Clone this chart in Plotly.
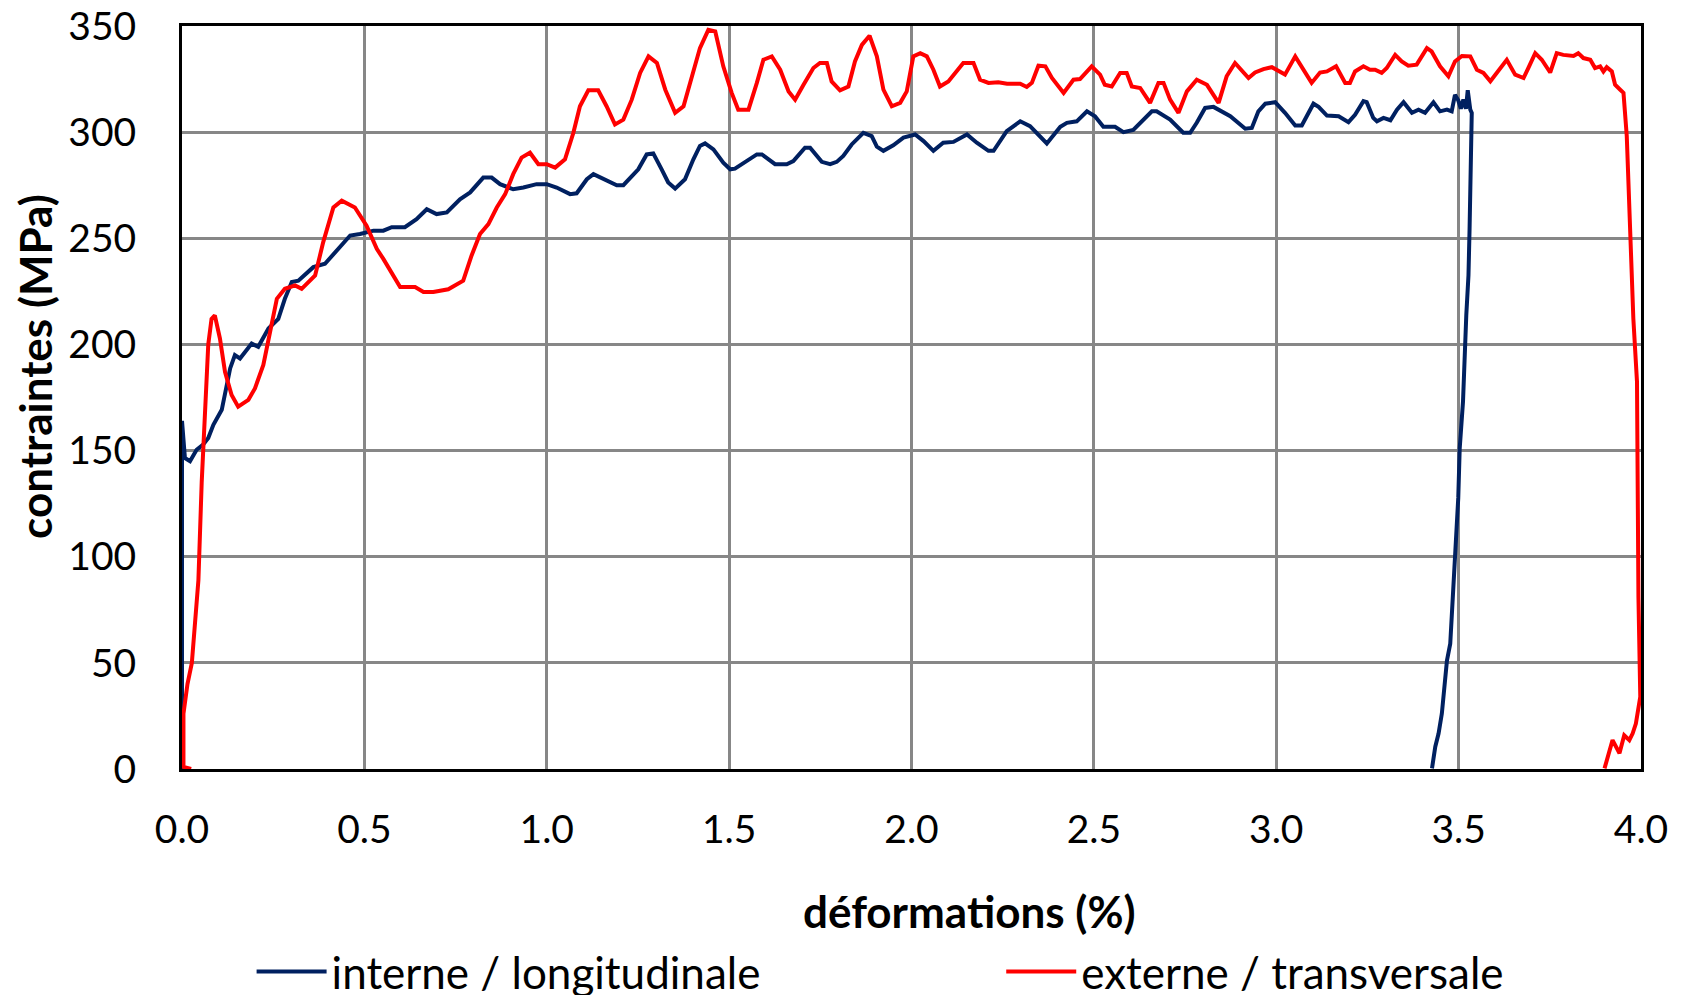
import plotly.graph_objects as go

# interne / longitudinale : (déformation %, contrainte MPa)
interne = [
    (0.0, 0), (0.0, 164), (0.008, 146.5), (0.022, 145), (0.04, 150.4), (0.058, 152.8),
    (0.072, 155.9), (0.086, 162.1), (0.109, 169.2), (0.118, 176), (0.132, 188.7),
    (0.145, 195), (0.159, 193.4), (0.191, 200.4), (0.209, 198.9), (0.237, 207.5),
    (0.264, 212), (0.282, 221.5), (0.301, 229.4), (0.319, 230), (0.337, 233),
    (0.36, 236.4), (0.392, 238), (0.424, 244.2), (0.461, 251.3), (0.488, 252),
    (0.525, 253.6), (0.552, 253.6), (0.575, 255.2), (0.611, 255.2), (0.643, 259),
    (0.671, 263.7), (0.698, 261.4), (0.726, 262.2), (0.762, 268.4), (0.79, 271.6),
    (0.826, 278.6), (0.849, 278.6), (0.872, 275.5), (0.908, 273.1), (0.936, 273.9),
    (0.972, 275.5), (1.0, 275.5), (1.027, 273.9), (1.064, 270.8), (1.082, 271.2),
    (1.11, 277.8), (1.128, 280.2), (1.16, 277.8), (1.192, 275), (1.21, 275),
    (1.251, 282.5), (1.274, 289.5), (1.292, 290), (1.315, 282.5), (1.333, 276.3),
    (1.352, 273.4), (1.379, 277.8), (1.402, 287.2), (1.42, 293.5), (1.434, 294.7),
    (1.457, 291.9), (1.484, 285.6), (1.503, 282.5), (1.516, 282.8), (1.548, 286.4),
    (1.576, 289.5), (1.59, 289.5), (1.626, 284.9), (1.658, 284.9), (1.676, 286.4),
    (1.708, 292.7), (1.722, 292.7), (1.754, 286), (1.777, 284.9), (1.795, 286),
    (1.813, 288.8), (1.836, 294.2), (1.868, 299.7), (1.891, 298.1), (1.905, 293.2),
    (1.923, 291.2), (1.95, 293.8), (1.978, 297.4), (2.01, 298.9), (2.033, 295.8),
    (2.06, 291.2), (2.087, 295), (2.115, 295.4), (2.152, 298.9), (2.179, 295),
    (2.211, 291.2), (2.225, 291.2), (2.261, 300.5), (2.298, 305.1), (2.325, 302.8),
    (2.348, 298.9), (2.371, 294.7), (2.408, 302.5), (2.426, 304.4), (2.453, 305.1),
    (2.481, 309.8), (2.503, 307.5), (2.526, 302.5), (2.558, 302.5), (2.581, 300),
    (2.608, 301), (2.631, 305.1), (2.659, 309.8), (2.672, 309.8), (2.709, 305.9),
    (2.745, 299.7), (2.764, 299.7), (2.782, 304.4), (2.805, 311.4), (2.828, 311.9),
    (2.874, 307.5), (2.915, 301.6), (2.933, 302), (2.951, 309.8), (2.97, 313.4),
    (2.997, 314.1), (3.024, 309.1), (3.052, 303.1), (3.07, 303.1), (3.102, 313.4),
    (3.116, 311.9), (3.139, 307.8), (3.171, 307.5), (3.198, 304.7), (3.216, 308.2),
    (3.239, 314.6), (3.248, 314.1), (3.266, 306.7), (3.276, 305.1), (3.294, 306.7),
    (3.313, 305.6), (3.331, 310.6), (3.349, 314.1), (3.372, 309.1), (3.39, 310.6),
    (3.408, 309.1), (3.431, 314.1), (3.449, 309.8), (3.468, 310.6), (3.481, 309.8),
    (3.49, 317.6), (3.499, 315), (3.506, 311), (3.513, 315.3), (3.52, 311),
    (3.525, 319.7), (3.532, 310.6), (3.536, 309.1), (3.534, 282.5), (3.53, 254.4),
    (3.527, 232.5), (3.521, 213.7), (3.512, 173.1), (3.503, 151.2), (3.499, 127.7),
    (3.49, 99.6), (3.481, 73), (3.477, 59), (3.468, 51.1), (3.454, 26.1),
    (3.445, 16.7), (3.436, 10.5), (3.427, 0.3),
]

# externe / transversale
externe = [
    (0.025, 0), (0.004, 1), (0.004, 26), (0.015, 40), (0.027, 50), (0.04, 79),
    (0.045, 89), (0.054, 135), (0.063, 167), (0.072, 200), (0.081, 212), (0.09, 213.7),
    (0.104, 202.8), (0.118, 187), (0.136, 176.2), (0.154, 170.7), (0.182, 173.9),
    (0.2, 179.3), (0.223, 190.3), (0.241, 204.4), (0.26, 221.5), (0.282, 226.2),
    (0.31, 227.8), (0.328, 226.2), (0.365, 232.5), (0.387, 248.1), (0.415, 264.5),
    (0.438, 267.7), (0.474, 264.5), (0.506, 255.9), (0.534, 245), (0.552, 240.3),
    (0.598, 227), (0.639, 227), (0.662, 224.7), (0.689, 224.7), (0.73, 226),
    (0.771, 230), (0.794, 241.9), (0.817, 252), (0.84, 256.7), (0.863, 264.5),
    (0.886, 270.8), (0.908, 280.2), (0.931, 288), (0.954, 290.3), (0.977, 284.9),
    (1.0, 284.9), (1.023, 283.3), (1.05, 287.2), (1.073, 299.7), (1.091, 312.2),
    (1.114, 319.7), (1.141, 319.7), (1.164, 312.2), (1.187, 303.6), (1.21, 305.9),
    (1.233, 315.3), (1.256, 327.9), (1.279, 335.7), (1.302, 332.6), (1.325, 320),
    (1.352, 309.1), (1.375, 312.2), (1.398, 326.2), (1.42, 339.6), (1.443, 348.2),
    (1.462, 347.4), (1.484, 331), (1.507, 318.5), (1.525, 310.6), (1.553, 310.6),
    (1.576, 323.2), (1.594, 334.1), (1.617, 335.7), (1.64, 329.4), (1.663, 319.2),
    (1.681, 315.3), (1.704, 322.3), (1.731, 330.2), (1.749, 332.6), (1.768, 332.6),
    (1.781, 323.9), (1.804, 319.7), (1.827, 321.5), (1.845, 333.3), (1.864, 341.1),
    (1.885, 345.4), (1.905, 335.7), (1.923, 320), (1.946, 312.2), (1.969, 313.8),
    (1.987, 319.2), (2.005, 335.7), (2.024, 337.2), (2.042, 335.7), (2.06, 329.4),
    (2.078, 321.5), (2.101, 323.9), (2.124, 328.6), (2.142, 332.6), (2.17, 332.6),
    (2.188, 324.7), (2.211, 323.2), (2.238, 323.5), (2.262, 322.8), (2.298, 322.8),
    (2.316, 321.3), (2.33, 323.2), (2.348, 331.3), (2.367, 331), (2.385, 325.5),
    (2.417, 318.5), (2.444, 324.7), (2.462, 325), (2.494, 331), (2.517, 327.1),
    (2.53, 322.3), (2.549, 321.5), (2.572, 327.9), (2.59, 327.9), (2.604, 321.5),
    (2.627, 320.8), (2.654, 313.8), (2.677, 323.2), (2.691, 323.2), (2.709, 315.3),
    (2.732, 309.1), (2.755, 319.2), (2.782, 324.7), (2.81, 322.3), (2.842, 313.8),
    (2.864, 326.3), (2.887, 332.6), (2.924, 325.5), (2.942, 328.1), (2.965, 329.7),
    (2.988, 330.6), (3.024, 327.1), (3.052, 335.7), (3.075, 329.4), (3.097, 323.2),
    (3.12, 328.1), (3.139, 328.6), (3.164, 331), (3.189, 323.2), (3.202, 323.2),
    (3.216, 328.6), (3.239, 331), (3.257, 329.4), (3.271, 329.4), (3.289, 327.9),
    (3.303, 330.2), (3.326, 336.4), (3.344, 333.3), (3.362, 331.3), (3.385, 331.8),
    (3.413, 339.6), (3.426, 338), (3.449, 331), (3.472, 326.3), (3.49, 333.3),
    (3.509, 335.9), (3.532, 335.7), (3.55, 329.4), (3.568, 327.9), (3.587, 324),
    (3.605, 327.9), (3.632, 334.1), (3.655, 327.1), (3.678, 325.5), (3.691, 330.2),
    (3.71, 337.2), (3.728, 334.1), (3.751, 328.1), (3.769, 337.2), (3.787, 336.4),
    (3.815, 335.9), (3.828, 337.2), (3.842, 334.9), (3.861, 334.1), (3.874, 330.2),
    (3.888, 331), (3.897, 328.6), (3.906, 330.6), (3.92, 328.6), (3.929, 322.3),
    (3.943, 320), (3.952, 318.5), (3.961, 298.1), (3.97, 251.3), (3.979, 212.2),
    (3.989, 182.5), (3.99, 127.7), (3.993, 80.8), (3.998, 34), (3.986, 21.4),
    (3.977, 16.7), (3.968, 13.6), (3.954, 15.9), (3.941, 7.4), (3.922, 13.6),
    (3.909, 5.8), (3.9, 0.3),
]

FONT = "Lato"

fig = go.Figure()
fig.add_trace(go.Scatter(
    x=[p[0] for p in interne], y=[p[1] for p in interne],
    mode='lines', line=dict(color='#002060', width=4),
    name='interne / longitudinale', legend='legend'
))
fig.add_trace(go.Scatter(
    x=[p[0] for p in externe], y=[p[1] for p in externe],
    mode='lines', line=dict(color='#FF0000', width=4),
    name='externe / transversale', legend='legend2'
))

axis_common = dict(
    showline=True, linecolor='black', linewidth=3, mirror=True,
    showgrid=True, gridcolor='#878787', gridwidth=2.5,
    zeroline=False, ticks='', ticklabeloverflow='allow',
    tickfont=dict(family=FONT, size=39, color='black'),
)
fig.update_xaxes(range=[0, 4], dtick=0.5, tickformat='.1f', ticklabelstandoff=24, **axis_common)
fig.update_yaxes(range=[0, 350], dtick=50, ticklabelstandoff=35, **axis_common)

# titres des axes
fig.add_annotation(text='<b>déformations (%)</b>', xref='paper', yref='paper',
                   x=0.540, y=-0.191, xanchor='center', yanchor='middle', showarrow=False,
                   font=dict(family=FONT, size=44, color='black'))
fig.add_annotation(text='<b>contraintes (MPa)</b>', xref='paper', yref='paper',
                   x=-0.1008, y=0.5424, xanchor='center', yanchor='middle',
                   textangle=-90, showarrow=False,
                   font=dict(family=FONT, size=44, color='black'))

leg = dict(orientation='h', yanchor='middle', xanchor='left', y=-0.2732, itemwidth=70,
           font=dict(family=FONT, size=44, color='black'), bgcolor='rgba(0,0,0,0)')

# la page ajoute 8 px de marge autour de la figure
fig.update_layout(
    width=1676, height=987,
    margin=dict(l=174, r=43, t=18, b=226, autoexpand=False),
    plot_bgcolor='white', paper_bgcolor='white',
    showlegend=True,
    legend=dict(x=0.0477, **leg),
    legend2=dict(x=0.5615, **leg),
)

fig.write_html("out.html")
